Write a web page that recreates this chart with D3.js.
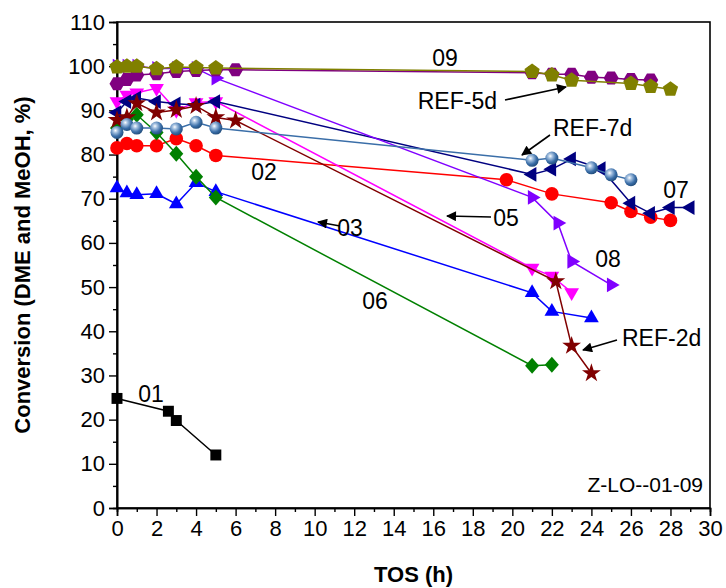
<!DOCTYPE html>
<html><head><meta charset="utf-8">
<script src="https://cdn.jsdelivr.net/npm/d3@7"></script>
<style>body{margin:0;background:#fff}svg{display:block}text{font-family:Arial,"Liberation Sans",sans-serif}</style>
</head><body><svg id="c" width="726" height="588"></svg>
<script>
// ---- data ----
const tos01 = [0, 2.6, 3, 5];
const conv01 = [24.8, 21.9, 19.8, 12];
const tos02 = [0, 0.5, 1, 2, 3, 4, 5, 19.7, 22, 25, 26, 27, 28];
const conv02 = [81.5, 82.5, 82, 82, 83.6, 82, 79.8, 74.3, 71.1, 69.1, 67.1, 65.8, 65.1];
const tos03 = [0, 0.5, 1, 2, 3, 4, 5, 21, 22, 24];
const conv03 = [72.4, 71.3, 70.9, 71.1, 68.8, 73.6, 71.6, 48.7, 44.5, 43.0];
const tos05 = [0, 0.5, 1, 2, 3, 4, 5, 21, 22, 23];
const conv05 = [92, 93.5, 94, 95, 90, 91.8, 92, 54.3, 52.5, 48.8];
const tos06 = [0, 0.5, 1, 2, 3, 4, 5, 21, 22];
const conv06 = [86, 88, 89, 85, 80.2, 75, 70.3, 32.2, 32.4];
const tos07 = [0, 0.5, 1, 2, 3, 4, 5, 21, 22, 23, 24.5, 26, 27, 28, 29];
const conv07 = [89.5, 92, 92.8, 92, 91.5, 91.2, 92, 75.5, 76.7, 79, 76.8, 69, 66.7, 68, 68];
const tos08 = [0, 0.5, 1, 2, 3, 4, 5, 21, 22.3, 23, 25];
const conv08 = [100, 100, 100, 99.5, 99.5, 99.5, 97.3, 70.3, 64.5, 55.8, 50.5];
const tos09 = [0, 0.5, 1, 2, 3, 4, 5, 6, 21, 22, 23, 24, 25, 26, 27];
const conv09 = [96, 97, 98, 98.3, 98.8, 99, 99.2, 99.2, 98.5, 98.2, 98.2, 97.5, 97.3, 97, 96.9];
const tosR2 = [0, 0.5, 1, 2, 3, 4, 5, 6, 22.2, 23, 24];
const convR2 = [87.8, 88.4, 91.6, 89.5, 90.1, 91, 88.4, 87.7, 51.3, 36.7, 30.5];
const tosR7 = [0, 0.5, 1, 2, 3, 4, 5, 21, 22, 24, 25, 26];
const convR7 = [85, 86.8, 86, 86, 85.8, 87.3, 86, 78.7, 79.2, 77, 75.4, 74.3];
const tosR5 = [0, 0.5, 1, 2, 3, 4, 5, 21, 22, 23, 26, 27, 28];
const convR5 = [99.8, 100, 100, 99.4, 99.8, 99.7, 99.6, 98.8, 98, 96.8, 96.1, 95.4, 94.8];

const xMajor = [0,2,4,6,8,10,12,14,16,18,20,22,24,26,28,30];
const xMinor = [1,3,5,7,9,11,13,15,17,19,21,23,25,27,29];
const yMajor = [0,10,20,30,40,50,60,70,80,90,100,110];
const yMinor = [5,15,25,35,45,55,65,75,85,95,105];

const series = [
  {name:"01", t:tos01, v:conv01, color:"#000000", shape:"square"},
  {name:"02", t:tos02, v:conv02, color:"#ff0000", shape:"circle"},
  {name:"03", t:tos03, v:conv03, color:"#0000ff", shape:"triUp"},
  {name:"05", t:tos05, v:conv05, color:"#ff00ff", shape:"triDown"},
  {name:"06", t:tos06, v:conv06, color:"#008000", shape:"diamond"},
  {name:"07", t:tos07, v:conv07, color:"#000080", shape:"triLeft"},
  {name:"08", t:tos08, v:conv08, color:"#8000ff", shape:"triRight"},
  {name:"09", t:tos09, v:conv09, color:"#800080", shape:"hexagon"},
  {name:"REF-2d", t:tosR2, v:convR2, color:"#800000", shape:"star"},
  {name:"REF-7d", t:tosR7, v:convR7, color:"#3a6ea8", shape:"sphere"},
  {name:"REF-5d", t:tosR5, v:convR5, color:"#808000", shape:"pentagon"}
];

// ---- chart ----
const svg = d3.select("#c");
const L=117, R=710, T=22, B=508;
const x = d3.scaleLinear().domain([0,30]).range([L,R]);
const y = d3.scaleLinear().domain([0,110]).range([B,T]);

const defs = svg.append("defs");
const g = defs.append("radialGradient").attr("id","sph").attr("cx","0.38").attr("cy","0.35").attr("r","0.65");
g.append("stop").attr("offset","0").attr("stop-color","#ffffff");
g.append("stop").attr("offset","0.25").attr("stop-color","#a9c4e2");
g.append("stop").attr("offset","0.7").attr("stop-color","#3a6ea8");
g.append("stop").attr("offset","1").attr("stop-color","#24507f");
defs.append("marker").attr("id","arr").attr("viewBox","0 0 10 10").attr("refX",9).attr("refY",5)
  .attr("markerWidth",12).attr("markerHeight",10).attr("markerUnits","userSpaceOnUse").attr("orient","auto")
  .append("path").attr("d","M0,0L10,5L0,10Z").attr("fill","#000");

function poly(n, r, rot){
  const pts=[];
  for(let i=0;i<n;i++){const a=rot+i*2*Math.PI/n; pts.push([r*Math.cos(a), r*Math.sin(a)]);}
  return "M"+pts.map(p=>p[0].toFixed(2)+","+p[1].toFixed(2)).join("L")+"Z";
}
function shapePath(s){
  switch(s){
    case "square": return d3.symbol(d3.symbolSquare,120)();
    case "triUp": return poly(3,8.5,-Math.PI/2);
    case "triDown": return poly(3,8.5,Math.PI/2);
    case "triLeft": return poly(3,8.5,Math.PI);
    case "triRight": return poly(3,8.5,0);
    case "diamond": return "M0,-8L7,0L0,8L-7,0Z";
    case "hexagon": return poly(6,7.5,0);
    case "pentagon": return poly(5,8,-Math.PI/2);
    case "star": return d3.symbol(d3.symbolStar,110)();
  }
}

// frame
svg.append("rect").attr("x",L).attr("y",T).attr("width",R-L).attr("height",B-T)
  .attr("fill","none").attr("stroke","#000").attr("stroke-width",1.6);

// axes
const fs = 22;
svg.append("g").attr("transform",`translate(0,${B})`)
  .call(d3.axisBottom(x).tickValues(xMajor).tickSize(8).tickPadding(4).tickFormat(d3.format("d")));
svg.append("g").attr("transform",`translate(0,${B})`)
  .call(d3.axisBottom(x).tickValues(xMinor).tickSize(4).tickFormat(""));
svg.append("g").attr("transform",`translate(${L},0)`)
  .call(d3.axisLeft(y).tickValues(yMajor).tickSize(8).tickPadding(4).tickFormat(d3.format("d")));
svg.append("g").attr("transform",`translate(${L},0)`)
  .call(d3.axisLeft(y).tickValues(yMinor).tickSize(4).tickFormat(""));
svg.selectAll(".domain").attr("stroke","#000").attr("stroke-width",1.6);
svg.selectAll(".tick line").attr("stroke","#000").attr("stroke-width",1.4);
svg.selectAll(".tick text").attr("font-size",fs).attr("font-family","Arial, 'Liberation Sans', sans-serif").attr("fill","#000");

svg.append("text").attr("x",(L+R)/2).attr("y",582).attr("text-anchor","middle")
  .attr("font-size",22).attr("font-weight","bold").text("TOS (h)");
svg.append("text").attr("transform",`translate(30,${(T+B)/2}) rotate(-90)`).attr("text-anchor","middle")
  .attr("font-size",22).attr("font-weight","bold").text("Conversion (DME and MeOH, %)");

// series
const line = d3.line().x(d=>x(d[0])).y(d=>y(d[1]));
const plot = svg.append("g");
series.forEach(s=>{
  const pts = s.t.map((t,i)=>[t,s.v[i]]);
  plot.append("path").datum(pts).attr("d",line).attr("fill","none")
    .attr("stroke",s.color).attr("stroke-width",1.5);
  const mk = plot.append("g");
  pts.forEach(p=>{
    if(s.shape==="circle"){
      mk.append("circle").attr("cx",x(p[0])).attr("cy",y(p[1])).attr("r",6.8).attr("fill",s.color);
    } else if(s.shape==="sphere"){
      mk.append("circle").attr("cx",x(p[0])).attr("cy",y(p[1])).attr("r",6.5).attr("fill","url(#sph)");
    } else {
      mk.append("path").attr("d",shapePath(s.shape))
        .attr("transform",`translate(${x(p[0])},${y(p[1])})`).attr("fill",s.color);
    }
  });
});

// labels
const labels = [
  {t:"09", x:445, y:58, a:"middle", f:23},
  {t:"REF-5d", x:497, y:101, a:"end", f:23},
  {t:"REF-7d", x:553, y:128, a:"start", f:23},
  {t:"02", x:264, y:172, a:"middle", f:23},
  {t:"03", x:350, y:228, a:"middle", f:23},
  {t:"05", x:506, y:218, a:"middle", f:23},
  {t:"07", x:676, y:190, a:"middle", f:23},
  {t:"08", x:608, y:259, a:"middle", f:23},
  {t:"06", x:375, y:301, a:"middle", f:23},
  {t:"REF-2d", x:622, y:338, a:"start", f:23},
  {t:"01", x:151, y:394, a:"middle", f:23},
  {t:"Z-LO--01-09", x:703, y:485, a:"end", f:21}
];
labels.forEach(l=>{
  svg.append("text").attr("x",l.x).attr("y",l.y).attr("dy","0.35em").attr("text-anchor",l.a)
    .attr("font-size",l.f).attr("fill","#000").text(l.t);
});
const arrows = [
  [505,100,566,87],
  [550,135,522,155],
  [491,217,447,216],
  [340,226,318,222],
  [617,340,583,350]
];
arrows.forEach(a=>{
  svg.append("line").attr("x1",a[0]).attr("y1",a[1]).attr("x2",a[2]).attr("y2",a[3])
    .attr("stroke","#000").attr("stroke-width",1.6).attr("marker-end","url(#arr)");
});
</script></body></html>
